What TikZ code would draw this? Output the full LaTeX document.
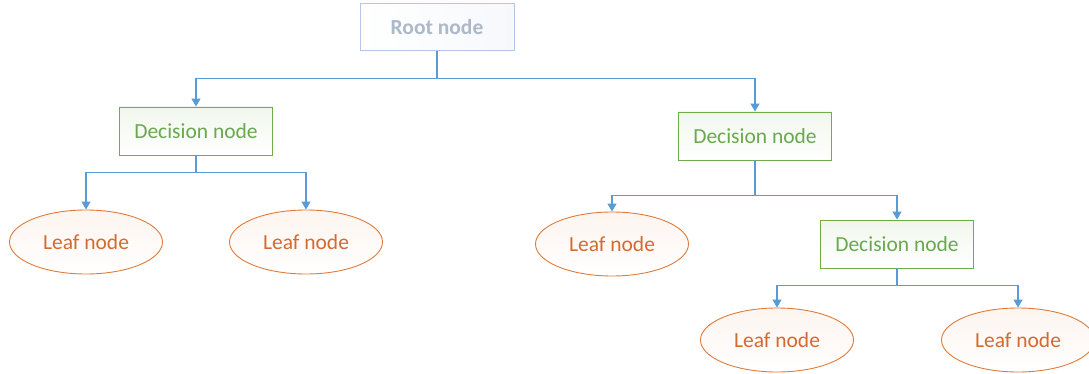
\documentclass[tikz,border=0pt]{standalone}
\usepackage{fontspec}
\setmainfont{Carlito}
\usetikzlibrary{shapes.geometric,arrows.meta}
\definecolor{conn}{HTML}{5B9BD5}
\definecolor{rootline}{HTML}{B4C7E7}
\definecolor{roottext}{HTML}{ADB9CA}
\definecolor{decline}{HTML}{70AD47}
\definecolor{dectext}{HTML}{6AA84F}
\definecolor{leafline}{HTML}{E07B39}
\definecolor{leaftext}{HTML}{D46A2E}
\tikzset{
  rootbox/.style={draw=rootline, line width=0.9pt, shade, left color=white, right color=rootline!12, text=roottext, font=\fontsize{21.5}{24}\selectfont\bfseries, minimum width=154pt, minimum height=47pt, inner sep=0pt},
  decbox/.style={draw=decline, line width=0.9pt, shade, shading angle=135, top color=decline!10, bottom color=white, text=dectext, font=\fontsize{21.5}{24}\selectfont, minimum width=153pt, minimum height=48pt, inner sep=0pt},
  leaf/.style={ellipse, draw=leafline, line width=0.9pt, shade, top color=leafline!8, bottom color=white, text=leaftext, font=\fontsize{21.5}{24}\selectfont, minimum width=153pt, minimum height=64pt, inner sep=0pt},
  link/.style={draw=conn, line width=1.1pt, -{Triangle[length=8pt,width=9pt]}}
}
\begin{document}
\begin{tikzpicture}[x=1pt,y=-1pt]
\useasboundingbox (0,0) rectangle (1089,374);
\node[rootbox] (root) at (437,27) {Root node};
\node[decbox] (d1) at (196,131) {Decision node};
\node[decbox] (d2) at (755,136) {Decision node};
\node[leaf] (l1) at (86,242) {Leaf node};
\node[leaf] (l2) at (306,242) {Leaf node};
\node[leaf] (l3) at (612,244) {Leaf node};
\node[decbox] (d3) at (897,244) {Decision node};
\node[leaf] (l4) at (777,340) {Leaf node};
\node[leaf] (l5) at (1018,340) {Leaf node};
\draw[link] (root.south) -- ++(0,28) -| (d1.north);
\draw[link] (root.south) -- ++(0,28) -| (d2.north);
\draw[link] (d1.south) -- ++(0,17) -| (l1.north);
\draw[link] (d1.south) -- ++(0,17) -| (l2.north);
\draw[link] (d2.south) -- ++(0,35) -| (l3.north);
\draw[link] (d2.south) -- ++(0,35) -| (d3.north);
\draw[link] (d3.south) -- ++(0,17) -| (l4.north);
\draw[link] (d3.south) -- ++(0,17) -| (l5.north);
\end{tikzpicture}
\end{document}
